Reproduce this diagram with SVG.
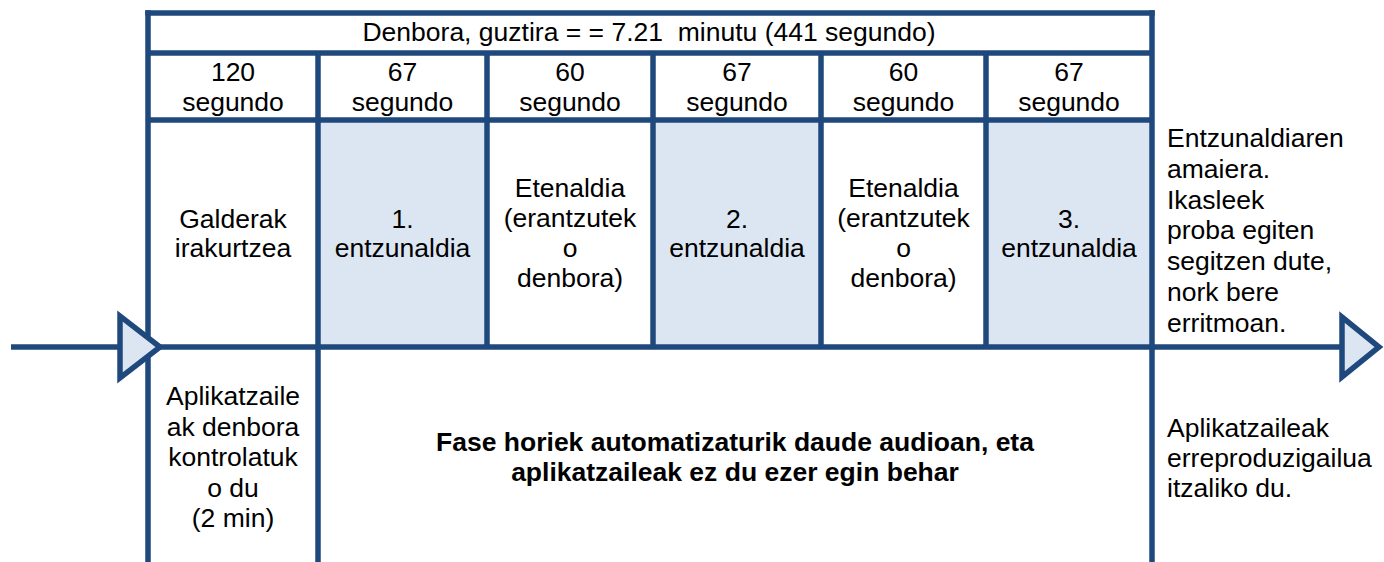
<svg xmlns="http://www.w3.org/2000/svg" width="1384" height="562" viewBox="0 0 1384 562">
<style>
.ln{stroke:#1f497d;stroke-width:5.5;fill:none}
.tri{stroke:#1f497d;stroke-width:5.5;fill:#dce6f2;stroke-linejoin:miter}
.shade{fill:#dce6f2}
text{font-family:"Liberation Sans",Arial,sans-serif;font-size:26.5px;fill:#000}
.c{text-anchor:middle}
.b{font-weight:bold}
</style>
<rect width="1384" height="562" fill="#fff"/>
<g id="shading">
<rect class="shade" x="318" y="120" width="169" height="227"/>
<rect class="shade" x="653" y="120" width="168" height="227"/>
<rect class="shade" x="986" y="120" width="166" height="227"/>
</g>
<g id="connectors">
<line class="ln" x1="11" y1="347" x2="1345" y2="347"/>
<line class="ln" x1="145.25" y1="13" x2="1154.75" y2="13"/>
<line class="ln" x1="148" y1="53" x2="1152" y2="53"/>
<line class="ln" x1="148" y1="120" x2="1152" y2="120"/>
<line class="ln" x1="148" y1="10.25" x2="148" y2="562"/>
<line class="ln" x1="318" y1="53" x2="318" y2="562"/>
<line class="ln" x1="487" y1="53" x2="487" y2="347"/>
<line class="ln" x1="653" y1="53" x2="653" y2="347"/>
<line class="ln" x1="821" y1="53" x2="821" y2="347"/>
<line class="ln" x1="986" y1="53" x2="986" y2="347"/>
<line class="ln" x1="1152" y1="10.25" x2="1152" y2="562"/>
<polygon id="arrow-left" class="tri" points="120,316 120,378 160,347"/>
<polygon id="arrow-right" class="tri" points="1342,317 1342,377 1379,347"/>
</g>
<g id="header">
<text class="c" x="649" y="41" xml:space="preserve">Denbora, guztira = = 7.21  minutu (441 segundo)</text>
</g>
<g id="dur1"><text class="c" x="233" y="81">120</text><text class="c" x="233" y="110.5">segundo</text></g>
<g id="dur2"><text class="c" x="402.5" y="81">67</text><text class="c" x="402.5" y="110.5">segundo</text></g>
<g id="dur3"><text class="c" x="570" y="81">60</text><text class="c" x="570" y="110.5">segundo</text></g>
<g id="dur4"><text class="c" x="737" y="81">67</text><text class="c" x="737" y="110.5">segundo</text></g>
<g id="dur5"><text class="c" x="903.5" y="81">60</text><text class="c" x="903.5" y="110.5">segundo</text></g>
<g id="dur6"><text class="c" x="1069" y="81">67</text><text class="c" x="1069" y="110.5">segundo</text></g>
<g id="phase1"><text class="c" x="233" y="228">Galderak</text><text class="c" x="233" y="257">irakurtzea</text></g>
<g id="phase2"><text class="c" x="402.5" y="228">1.</text><text class="c" x="402.5" y="257">entzunaldia</text></g>
<g id="phase3"><text class="c" x="570" y="197">Etenaldia</text><text class="c" x="570" y="227">(erantzutek</text><text class="c" x="570" y="257">o</text><text class="c" x="570" y="287">denbora)</text></g>
<g id="phase4"><text class="c" x="737" y="228">2.</text><text class="c" x="737" y="257">entzunaldia</text></g>
<g id="phase5"><text class="c" x="903.5" y="197">Etenaldia</text><text class="c" x="903.5" y="227">(erantzutek</text><text class="c" x="903.5" y="257">o</text><text class="c" x="903.5" y="287">denbora)</text></g>
<g id="phase6"><text class="c" x="1069" y="228">3.</text><text class="c" x="1069" y="257">entzunaldia</text></g>
<g id="end-note">
<text x="1167" y="147">Entzunaldiaren</text>
<text x="1167" y="177.8">amaiera.</text>
<text x="1167" y="208.6">Ikasleek</text>
<text x="1167" y="239.4">proba egiten</text>
<text x="1167" y="270.2">segitzen dute,</text>
<text x="1167" y="301">nork bere</text>
<text x="1167" y="331.8">erritmoan.</text>
</g>
<g id="applicator-time">
<text class="c" x="233" y="405">Aplikatzaile</text>
<text class="c" x="233" y="435.5">ak denbora</text>
<text class="c" x="233" y="466">kontrolatuk</text>
<text class="c" x="233" y="496.5">o du</text>
<text class="c" x="233" y="527">(2 min)</text>
</g>
<g id="automatic-note">
<text class="c b" x="735" y="451">Fase horiek automatizaturik daude audioan, eta</text>
<text class="c b" x="735" y="481">aplikatzaileak ez du ezer egin behar</text>
</g>
<g id="player-off">
<text x="1167" y="437">Aplikatzaileak</text>
<text x="1167" y="467">erreproduzigailua</text>
<text x="1167" y="497">itzaliko du.</text>
</g>
</svg>
